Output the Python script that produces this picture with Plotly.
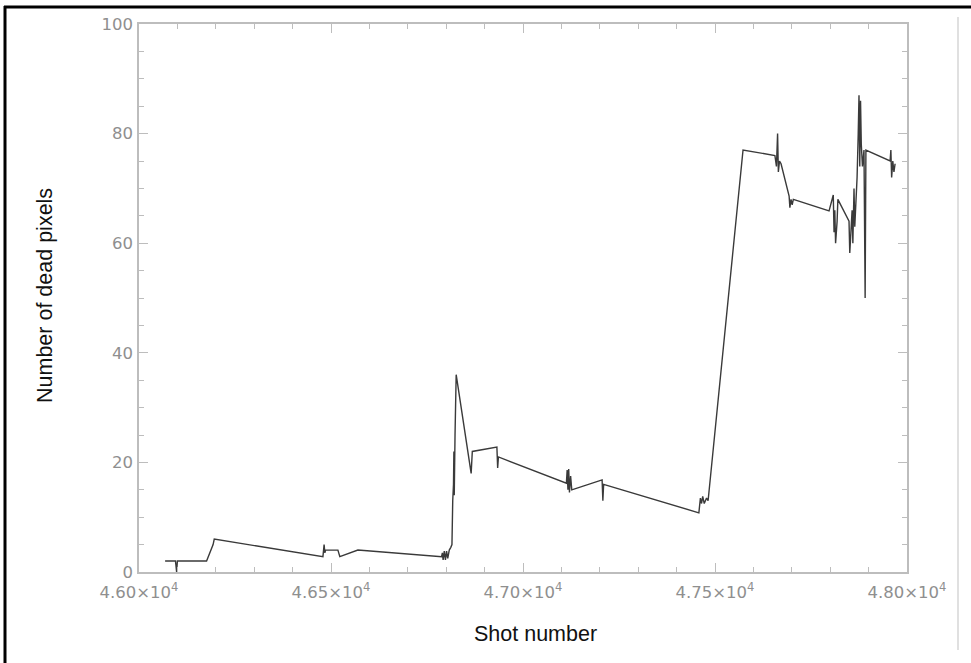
import plotly.graph_objects as go

# Shot number (x) and number of dead pixels (y)
shot = [46068, 46095, 46098, 46100, 46176, 46182, 46186, 46190, 46193, 46196,
        46479, 46482, 46484, 46486, 46518, 46523, 46570,
        46788, 46790, 46792, 46795, 46798, 46801, 46804, 46808, 46812, 46815,
        46817, 46819, 46820, 46821, 46823, 46826,
        46865, 46868, 46932, 46934, 46936,
        47113, 47115, 47117, 47119, 47121, 47124, 47127,
        47206, 47208, 47210,
        47458, 47462, 47465, 47468, 47472, 47478, 47482,
        47573, 47656, 47660, 47663, 47665, 47668, 47672,
        47693, 47695, 47698, 47701, 47704,
        47797, 47808, 47810, 47812, 47814, 47818, 47820,
        47849, 47851, 47854, 47857, 47859, 47862, 47864, 47867, 47870, 47873,
        47875, 47877, 47879, 47881, 47884, 47888, 47891, 47893,
        47956, 47958, 47960, 47963, 47966, 47969]
dead = [2, 2, 0, 2, 2, 3, 3.5, 4.5, 5, 6,
        2.8, 5, 3.5, 4, 4, 2.8, 4,
        2.8, 3.5, 2.2, 3.8, 2.2, 3.8, 2.5, 4, 4.5, 5,
        13, 16, 22, 14, 25, 36,
        18, 22, 22.8, 19, 21,
        16.2, 18.6, 15, 18.8, 14.5, 17.5, 15,
        16.8, 13, 16,
        10.8, 13.5, 12.5, 13.8, 12.5, 13.5, 13,
        77, 76, 74, 80, 73, 75, 74.5,
        68.6, 66.5, 68, 67, 68,
        65.9, 68.8, 62, 66, 60, 64, 68,
        64, 58.2, 62, 66, 60, 70, 63, 67, 72, 80,
        87, 74, 86, 78, 74, 77, 50, 77,
        75, 77, 72, 75, 73, 74.5]

x_tickvals = [46000, 46500, 47000, 47500, 48000]
x_ticktext = ["4.60×10<sup>4</sup>", "4.65×10<sup>4</sup>", "4.70×10<sup>4</sup>",
              "4.75×10<sup>4</sup>", "4.80×10<sup>4</sup>"]
y_tickvals = [0, 20, 40, 60, 80, 100]

W, H = 971, 663
L, R, T, B = 139, 907, 24, 572


def px(xp):
    return (xp - L) / (R - L)


def py(yp):
    return (B - yp) / (B - T)


axis_col = "#bdbdbd"
tick_font = dict(family="DejaVu Sans, sans-serif", size=16.5, color="#8f8f8f")
title_font = dict(family="Liberation Sans, Arial, sans-serif", size=21.5, color="#111111")

fig = go.Figure()
fig.add_trace(go.Scatter(x=shot, y=dead, mode="lines",
                         line=dict(color="#3a3a3a", width=1.4),
                         showlegend=False, hoverinfo="skip"))

fig.update_layout(
    width=W, height=H,
    margin=dict(l=L, r=W - R, t=T, b=H - B),
    paper_bgcolor="white", plot_bgcolor="white",
    xaxis=dict(range=[46000, 48000], tickvals=x_tickvals, ticktext=x_ticktext,
               ticks="inside", ticklen=9, tickcolor=axis_col, tickwidth=1,
               minor=dict(dtick=100, tick0=46000, ticks="inside", ticklen=5,
                          tickcolor=axis_col, showgrid=False),
               showline=True, linecolor=axis_col, linewidth=1.5, mirror="ticks",
               showgrid=False, zeroline=False, tickfont=tick_font,
               ticklabelstandoff=4),
    yaxis=dict(range=[0, 100], tickvals=y_tickvals,
               ticks="inside", ticklen=9, tickcolor=axis_col, tickwidth=1,
               minor=dict(dtick=5, tick0=0, ticks="inside", ticklen=5,
                          tickcolor=axis_col, showgrid=False),
               showline=True, linecolor=axis_col, linewidth=1.5, mirror="ticks",
               showgrid=False, zeroline=False, tickfont=tick_font,
               ticklabelstandoff=1),
    annotations=[
        dict(text="Number of dead pixels", xref="paper", yref="paper",
             x=px(45), y=py(296), textangle=-90, showarrow=False,
             font=title_font, xanchor="center", yanchor="middle"),
        dict(text="Shot number", xref="paper", yref="paper",
             x=px(535), y=py(634), showarrow=False,
             font=title_font, xanchor="center", yanchor="middle"),
    ],
    shapes=[
        dict(type="line", xref="paper", yref="paper", x0=px(4), x1=px(975),
             y0=py(7), y1=py(7), line=dict(color="black", width=3)),
        dict(type="line", xref="paper", yref="paper", x0=px(5), x1=px(5),
             y0=py(6), y1=py(670), line=dict(color="black", width=3)),
        dict(type="line", xref="paper", yref="paper", x0=px(958), x1=px(958),
             y0=py(17), y1=py(650), line=dict(color="#e0e0e0", width=2)),
    ],
)

fig.write_html("out.html",
               config={"displayModeBar": False},
               post_script="document.body.style.margin='0px';"
                           "document.body.style.overflow='hidden';")
